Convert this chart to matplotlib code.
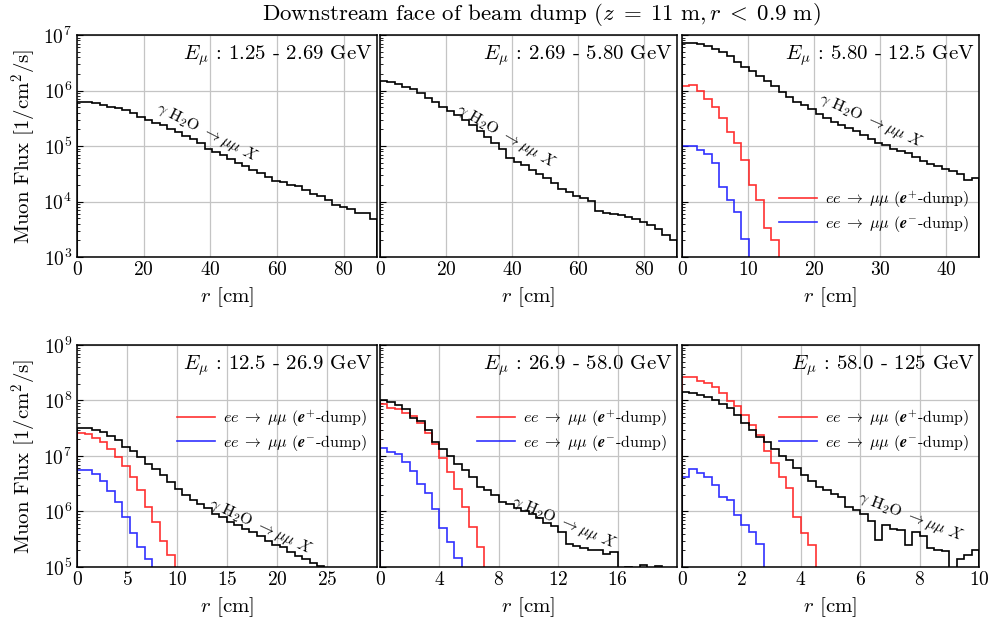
import numpy as np
import matplotlib
matplotlib.use("Agg")
import matplotlib.pyplot as plt

plt.rcParams['font.family'] = 'serif'
plt.rcParams['font.serif'] = ['cmr10']
plt.rcParams['mathtext.fontset'] = 'cm'
plt.rcParams['axes.unicode_minus'] = False
plt.rcParams['axes.formatter.use_mathtext'] = True

# ---------------- data ----------------
titles = ["$E_\\mu$ : 1.25 - 2.69 GeV", "$E_\\mu$ : 2.69 - 5.80 GeV", "$E_\\mu$ : 5.80 - 12.5 GeV",
          "$E_\\mu$ : 12.5 - 26.9 GeV", "$E_\\mu$ : 26.9 - 58.0 GeV", "$E_\\mu$ : 58.0 - 125 GeV"]
r_max = [90, 90, 45, 30, 20, 10]          # cm, 40 bins each
n_bins = 40
xticks = [[0, 20, 40, 60, 80], [0, 20, 40, 60, 80], [0, 10, 20, 30, 40],
          [0, 5, 10, 15, 20, 25], [0, 4, 8, 12, 16], [0, 2, 4, 6, 8, 10]]

gamma_1 = [6.2e5, 6.2e5, 5.9e5, 5.4e5, 5.1e5, 4.9e5, 4.4e5, 4.0e5, 3.4e5, 3.0e5,
           2.6e5, 2.4e5, 2.0e5, 1.8e5, 1.5e5, 1.35e5, 1.12e5, 8.9e4, 7.9e4, 6.9e4,
           5.9e4, 5.0e4, 4.3e4, 3.7e4, 3.2e4, 2.75e4, 2.35e4, 2.2e4, 1.95e4, 1.9e4,
           1.6e4, 1.38e4, 1.26e4, 1.07e4, 8.7e3, 7.9e3, 7.2e3, 6.3e3, 6.2e3, 4.8e3]
gamma_2 = [1.48e6, 1.45e6, 1.32e6, 1.17e6, 1.05e6, 8.9e5, 7.2e5, 6.3e5, 5.0e5, 4.2e5,
           3.55e5, 2.95e5, 2.4e5, 1.86e5, 1.45e5, 1.12e5, 8.7e4, 6.2e4, 5.25e4, 4.5e4,
           3.7e4, 3.16e4, 2.63e4, 2.14e4, 1.66e4, 1.48e4, 1.26e4, 1.17e4, 1.02e4, 6.8e3,
           6.2e3, 5.9e3, 5.6e3, 5.25e3, 4.8e3, 4.3e3, 3.7e3, 3.16e3, 2.5e3, 2.04e3]
gamma_3 = [7.1e6, 7.1e6, 6.8e6, 6.3e6, 5.6e6, 4.9e6, 4.2e6, 3.3e6, 2.7e6, 2.24e6,
           1.86e6, 1.51e6, 1.2e6, 9.5e5, 7.6e5, 6.3e5, 5.5e5, 4.7e5, 3.8e5, 3.16e5,
           2.75e5, 2.4e5, 2.14e5, 1.86e5, 1.58e5, 1.32e5, 1.15e5, 1.05e5, 8.9e4, 8.1e4,
           7.4e4, 6.3e4, 5.4e4, 4.8e4, 4.3e4, 3.8e4, 3.5e4, 3.16e4, 2.45e4, 2.7e4]
gamma_4 = [3.2e7, 3.16e7, 2.95e7, 2.7e7, 2.3e7, 1.95e7, 1.45e7, 1.23e7, 9.5e6, 7.2e6,
           5.75e6, 4.5e6, 3.4e6, 2.5e6, 1.95e6, 1.62e6, 1.35e6, 1.17e6, 8.9e5, 7.9e5,
           6.6e5, 5.75e5, 4.8e5, 4.2e5, 3.55e5, 3.0e5, 2.5e5, 2.3e5, 1.9e5, 1.58e5,
           1.38e5, 1.2e5, 1.05e5]
gamma_5 = [1.02e8, 9.3e7, 8.3e7, 6.9e7, 4.8e7, 4.2e7, 2.95e7, 1.78e7, 1.35e7, 1.0e7,
           7.2e6, 5.5e6, 4.1e6, 2.75e6, 2.4e6, 2.0e6, 1.51e6, 1.35e6, 1.17e6, 1.0e6,
           8.9e5, 7.6e5, 6.3e5, 5.4e5, 4.2e5, 2.63e5, 2.4e5, 2.2e5, 2.0e5, 2.0e5,
           1.7e5, 1.86e5, 5e4, 1.02e5, 5e4, 1.1e5, 5e4, 1.05e5, 5e4, 5e4]
gamma_6 = [1.41e8, 1.35e8, 1.26e8, 1.17e8, 1.02e8, 8.5e7, 7.2e7, 5.5e7, 3.9e7, 2.95e7,
           2.2e7, 1.78e7, 1.35e7, 1.02e7, 8.3e6, 6.0e6, 4.6e6, 3.55e6, 2.8e6, 2.4e6,
           2.1e6, 1.82e6, 1.2e6, 1.07e6, 9.1e5, 6.8e5, 3.1e5, 5.6e5, 4.9e5, 4.6e5,
           2.45e5, 4.3e5, 3.55e5, 2.24e5, 2.04e5, 1.95e5, 5e4, 1.41e5, 1.62e5, 2.04e5]

eplus_3 = [1.2e6, 1.26e6, 1.0e6, 6.9e5, 5.1e5, 3.16e5, 1.82e5, 1.12e5, 5.5e4, 2.0e4,
           1.07e4, 3.3e3, 2.04e3]
eminus_3 = [9.8e4, 1.02e5, 8.5e4, 7.2e4, 4.9e4, 1.86e4, 1.07e4, 6.5e3, 2.1e3]
eplus_4 = [2.57e7, 2.45e7, 2.14e7, 1.78e7, 1.32e7, 9.5e6, 6.6e6, 4.1e6, 2.4e6, 1.23e6,
           6.5e5, 3.0e5, 1.62e5]
eminus_4 = [5.5e6, 5.5e6, 4.7e6, 3.6e6, 2.34e6, 1.48e6, 7.8e5, 4.1e5, 2.34e5, 1.41e5]
eplus_5 = [8.7e7, 7.4e7, 6.9e7, 6.0e7, 5.25e7, 4.0e7, 2.63e7, 1.62e7, 9.3e6, 5.1e6,
           2.57e6, 1.23e6, 5.25e5, 2.34e5]
eminus_5 = [1.41e7, 1.17e7, 1.1e7, 7.8e6, 5.4e6, 3.16e6, 2.14e6, 1.12e6, 5.1e5, 2.8e5, 1.48e5]
eplus_6 = [2.63e8, 2.63e8, 2.24e8, 2.04e8, 1.74e8, 1.35e8, 9.8e7, 7.8e7, 5.5e7, 3.6e7,
           2.4e7, 1.23e7, 7.6e6, 4.2e6, 2.63e6, 8.1e5, 4.1e5, 2.45e5]
eminus_6 = [4.1e6, 5.9e6, 4.9e6, 4.1e6, 2.95e6, 1.82e6, 1.62e6, 8.5e5, 5.6e5, 4.3e5, 2.57e5]

gamma_all = [gamma_1, gamma_2, gamma_3, gamma_4, gamma_5, gamma_6]
eplus_all = [None, None, eplus_3, eplus_4, eplus_5, eplus_6]
eminus_all = [None, None, eminus_3, eminus_4, eminus_5, eminus_6]

ylims = [(1e3, 1e7), (1e5, 1e9)]
# annotation: (r, flux, rotation)
ann = [(39, 1.75e5, -27), (38, 1.5e5, -30), (28.6, 2.8e5, -24),
       (18.3, 5.4e5, -25), (12.4, 6.3e5, -23), (7.7, 8.1e5, -21)]
leg_y = [None, None, 0.205, 0.615, 0.615, 0.615]

# ---------------- figure ----------------
W, H = 991, 621
fig = plt.figure(figsize=(W / 100, H / 100), dpi=100)
cols = [(77, 377), (380, 677), (682, 979)]
rows = [(35, 257), (345, 567)]

lab_ee_p = r"$ee \;\rightarrow\; \mu\mu$ ($\boldsymbol{e}^{+}$-dump)"
lab_ee_m = r"$ee \;\rightarrow\; \mu\mu$ ($\boldsymbol{e}^{-}$-dump)"

for k in range(6):
    ri, ci = divmod(k, 3)
    x0, x1 = cols[ci]
    y0, y1 = rows[ri]
    ax = fig.add_axes([x0 / W, 1 - y1 / H, (x1 - x0) / W, (y1 - y0) / H])
    ax.set_yscale('log')
    ax.set_xlim(0, r_max[k])
    ax.set_ylim(*ylims[ri])
    edges = np.linspace(0, r_max[k], n_bins + 1)

    g = gamma_all[k]
    ax.stairs(g, edges[:len(g) + 1], baseline=1.0, color='black', lw=1.2, zorder=3)
    if eplus_all[k] is not None:
        ep = eplus_all[k]
        em = eminus_all[k]
        ax.stairs(ep, edges[:len(ep) + 1], baseline=1.0, color='#ff1a1a', lw=1.2,
                  alpha=0.9, zorder=2.8, label=lab_ee_p)
        ax.stairs(em, edges[:len(em) + 1], baseline=1.0, color='#1a1aff', lw=1.2,
                  alpha=0.9, zorder=2.8, label=lab_ee_m)
        ax.legend(loc='center right', bbox_to_anchor=(1.0, leg_y[k]),
                  frameon=False, fontsize=11.5, handlelength=2.4,
                  handletextpad=0.5, labelspacing=0.25, borderaxespad=0.2)

    ax.grid(True, which='major', color='#c4c4c4', lw=0.9)
    ax.set_axisbelow(True)
    ax.set_xticks(xticks[k])
    ax.tick_params(axis='both', which='both', direction='in', labelsize=14)
    ax.tick_params(axis='y', which='major', length=4)
    ax.tick_params(axis='y', which='minor', length=2)
    ax.tick_params(axis='x', which='major', length=0, pad=3)
    for s in ax.spines.values():
        s.set_linewidth(1.1)
        s.set_zorder(4)
    if ci != 0:
        ax.tick_params(axis='y', which='both', labelleft=False)
    else:
        ax.set_ylabel("Muon Flux [1/cm$^2$/s]", fontsize=15, labelpad=3)
    ax.set_xlabel("$r$ [cm]", fontsize=15, labelpad=4)

    ax.text(0.985, 0.965, titles[k], transform=ax.transAxes, ha='right', va='top',
            fontsize=15)
    ar, af, rot = ann[k]
    ax.text(ar, af, r"$\gamma$ H$_2$O $\rightarrow \mu\mu\ X$", rotation=rot,
            rotation_mode='anchor', ha='center', va='center', fontsize=11.5, zorder=5)

fig.text(541 / W, 1 - 15 / H,
         r"Downstream face of beam dump $(z\;=\;11\ \mathrm{m}, r\;<\;0.9\ \mathrm{m})$",
         ha='center', va='center', fontsize=16.5)

fig.savefig("out.png", dpi=100)
